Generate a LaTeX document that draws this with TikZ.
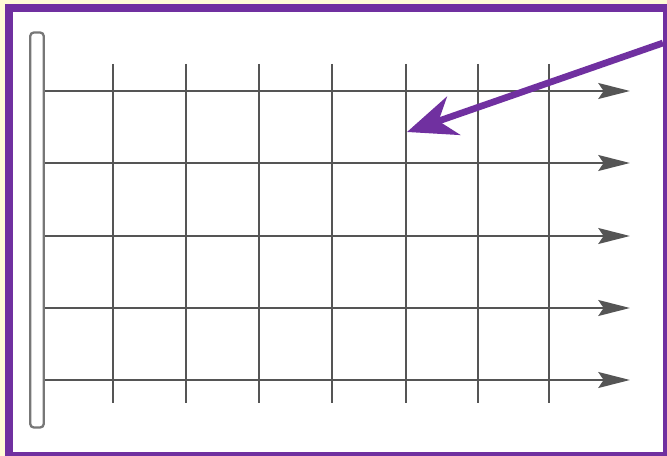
\documentclass[tikz,border=0pt]{standalone}
\usetikzlibrary{arrows.meta}

\definecolor{framepurple}{RGB}{112,48,160}
\definecolor{paperyellow}{RGB}{255,252,214}
\definecolor{wiregray}{RGB}{85,85,85}

\begin{document}
\begin{tikzpicture}[x=0.02cm, y=-0.02cm,
    wire/.style={draw=wiregray, line width=1.6pt},
    flow/.style={wire, -{Stealth[length=18pt, width=9pt, inset=3pt]}},
    plate/.style={draw=wiregray!80, line width=1.3pt, fill=white, rounded corners=2pt,
                  minimum width=0.27cm, minimum height=7.9cm, inner sep=0pt},
    pointer/.style={draw=framepurple, line width=3.8pt,
                    -{Stealth[length=28pt, width=23pt, inset=9pt]}}]
    % Frame and background
    \useasboundingbox (0,0) rectangle (667,456);
    \fill[paperyellow] (0,0) rectangle (667,456);
    \draw[framepurple, line width=4.5pt, fill=white] (9,8) rectangle (667,456);

    % Plate
    \node [plate] (plate) at (37,230) {};

    % Vertical wires
    \foreach \x [count=\i] in {113,186,259,332,406,478,549} {
        \coordinate (v\i-top) at (\x,64);
        \coordinate (v\i-bot) at (\x,403);
        \draw [wire] (v\i-top) -- (v\i-bot);
    }

    % Horizontal wires with arrows
    \foreach \y [count=\j] in {91,163,236,308,380} {
        \coordinate (h\j-start) at (plate.east |- 0,\y);
        \coordinate (h\j-end) at (630,\y);
        \draw [flow] (h\j-start) -- (h\j-end);
    }

    % Pointer
    \coordinate (pointer-start) at (663,43);
    \coordinate (pointer-tip) at (407,132);
    \draw [pointer] (pointer-start) -- (pointer-tip);
\end{tikzpicture}
\end{document}
